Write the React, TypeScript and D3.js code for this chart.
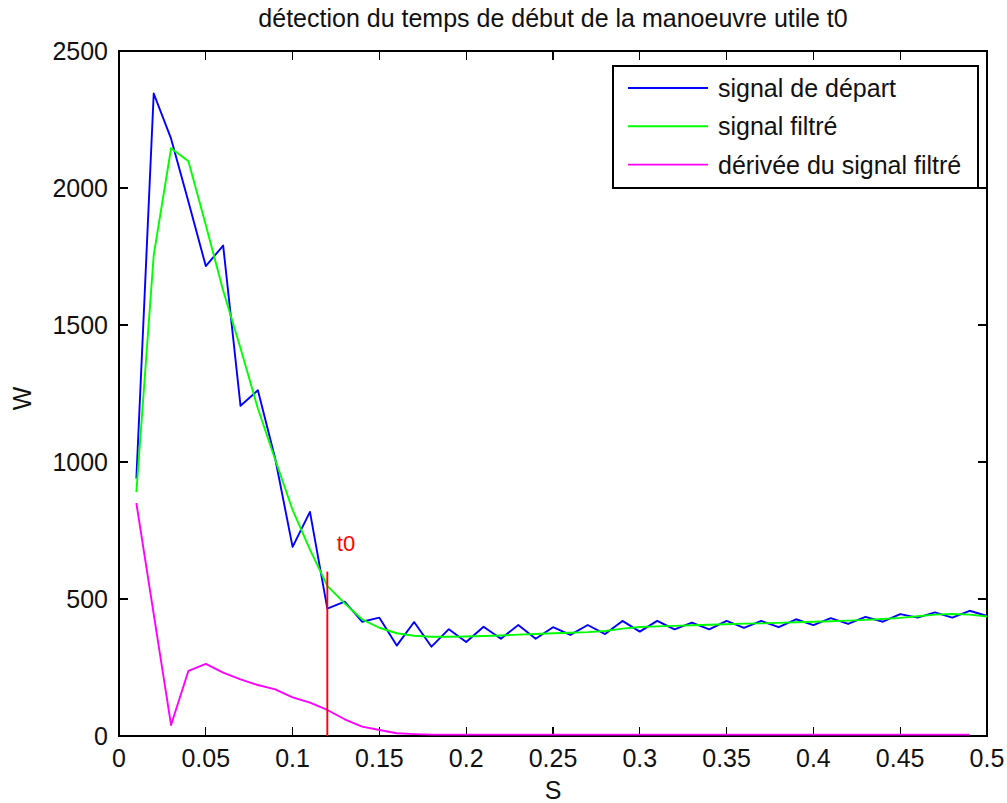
import React from 'react';
import * as d3 from 'd3';

// temps d'échantillonnage (s)
const temps = [
  0.01, 0.02, 0.03, 0.04, 0.05, 0.06, 0.07, 0.08, 0.09, 0.1,
  0.11, 0.12, 0.13, 0.14, 0.15, 0.16, 0.17, 0.18, 0.19, 0.2,
  0.21, 0.22, 0.23, 0.24, 0.25, 0.26, 0.27, 0.28, 0.29, 0.3,
  0.31, 0.32, 0.33, 0.34, 0.35, 0.36, 0.37, 0.38, 0.39, 0.4,
  0.41, 0.42, 0.43, 0.44, 0.45, 0.46, 0.47, 0.48, 0.49, 0.5,
];

const signalDepart = [
  940, 2345, 2180, 1950, 1715, 1790, 1205, 1262, 1012, 690,
  818, 465, 490, 417, 432, 330, 416, 326, 390, 343,
  399, 355, 405, 355, 397, 369, 405, 372, 420, 381,
  420, 389, 414, 389, 420, 395, 420, 397, 426, 405,
  430, 409, 435, 417, 445, 432, 451, 432, 457, 438,
];

const signalFiltre = [
  890, 1755, 2145, 2098, 1865, 1626, 1415, 1195, 1008, 825,
  680, 548, 484, 426, 395, 375, 366, 362, 362, 363,
  365, 367, 370, 372, 375, 377, 379, 383, 392, 398,
  400, 402, 404, 406, 408, 410, 411, 413, 415, 417,
  419, 421, 424, 427, 431, 437, 443, 445, 443, 436,
];

// la dérivée s'arrête à 0.49
const derivee = [
  850, 445, 40, 238, 263, 231, 207, 186, 170, 141,
  122, 95, 61, 34, 22, 10, 7, 5, 5, 5,
  5, 5, 5, 5, 5, 5, 5, 5, 5, 5,
  5, 5, 5, 5, 5, 5, 5, 5, 5, 5,
  5, 5, 5, 5, 5, 5, 5, 5, 5,
];

const xTicks = [0, 0.05, 0.1, 0.15, 0.2, 0.25, 0.3, 0.35, 0.4, 0.45, 0.5];
const yTicks = [0, 500, 1000, 1500, 2000, 2500];

const t0 = 0.12;
const t0Hauteur = 600;

const series = [
  { nom: 'signal de départ', couleur: '#0000ff', valeurs: signalDepart },
  { nom: 'signal filtré', couleur: '#00ff00', valeurs: signalFiltre },
  { nom: 'dérivée du signal filtré', couleur: '#ff00ff', valeurs: derivee },
];

const font = '"Liberation Sans", Arial, Helvetica, sans-serif';

export default function App() {
  const width = 1007;
  const height = 803;
  const left = 119, right = 987, top = 51, bottom = 736;

  const x = d3.scaleLinear().domain([0, 0.5]).range([left, right]);
  const y = d3.scaleLinear().domain([0, 2500]).range([bottom, top]);

  const line = d3.line<number>()
    .x((_, i) => x(temps[i]))
    .y(d => y(d));

  const tickLen = 9;
  const txt = { fontFamily: font, fontSize: 25, fill: '#111' };

  return (
    <svg width={width} height={height} style={{ position: 'absolute', left: 0, top: 0, background: '#fff' }}>
      <rect x={0} y={0} width={width} height={height} fill="#fff" />

      {/* titre */}
      <text x={(left + right) / 2} y={27} textAnchor="middle" {...txt}>
        détection du temps de début de la manoeuvre utile t0
      </text>

      {/* axes */}
      <g stroke="#000" strokeWidth={1.2} shapeRendering="crispEdges">
        <rect x={left} y={top} width={right - left} height={bottom - top} fill="none" />
        {xTicks.map(t => (
          <g key={'x' + t}>
            <line x1={x(t)} x2={x(t)} y1={bottom} y2={bottom - tickLen} />
            <line x1={x(t)} x2={x(t)} y1={top} y2={top + tickLen} />
          </g>
        ))}
        {yTicks.map(t => (
          <g key={'y' + t}>
            <line x1={left} x2={left + tickLen} y1={y(t)} y2={y(t)} />
            <line x1={right} x2={right - tickLen} y1={y(t)} y2={y(t)} />
          </g>
        ))}
      </g>
      {xTicks.map(t => (
        <text key={'xl' + t} x={x(t)} y={bottom + 31} textAnchor="middle" {...txt}>
          {String(t)}
        </text>
      ))}
      {yTicks.map(t => (
        <text key={'yl' + t} x={left - 11} y={y(t) + 9} textAnchor="end" {...txt}>
          {String(t)}
        </text>
      ))}
      <text x={(left + right) / 2} y={799} textAnchor="middle" {...txt}>S</text>
      <text transform={`translate(31,${(top + bottom) / 2 + 5}) rotate(-90)`} textAnchor="middle" {...txt}>W</text>

      {/* courbes */}
      <g fill="none" strokeWidth={1.9} strokeLinejoin="round">
        {series.map(s => (
          <path key={s.nom} d={line(s.valeurs) || ''} stroke={s.couleur} />
        ))}
      </g>

      {/* t0 */}
      <line x1={x(t0)} x2={x(t0)} y1={y(0)} y2={y(t0Hauteur)} stroke="#ff0000" strokeWidth={1.9} />
      <text x={x(0.1255)} y={y(675)} fontFamily={font} fontSize={22} fill="#ff0000">t0</text>

      {/* légende */}
      <g>
        <rect x={613} y={66} width={365} height={122} fill="#fff" stroke="#000" strokeWidth={1.2} shapeRendering="crispEdges" />
        {series.map((s, i) => {
          const ly = 88 + i * 38.3;
          return (
            <g key={'lg' + s.nom}>
              <line x1={628} x2={708} y1={ly} y2={ly} stroke={s.couleur} strokeWidth={1.9} />
              <text x={718} y={ly + 9} {...txt}>{s.nom}</text>
            </g>
          );
        })}
      </g>
    </svg>
  );
}
